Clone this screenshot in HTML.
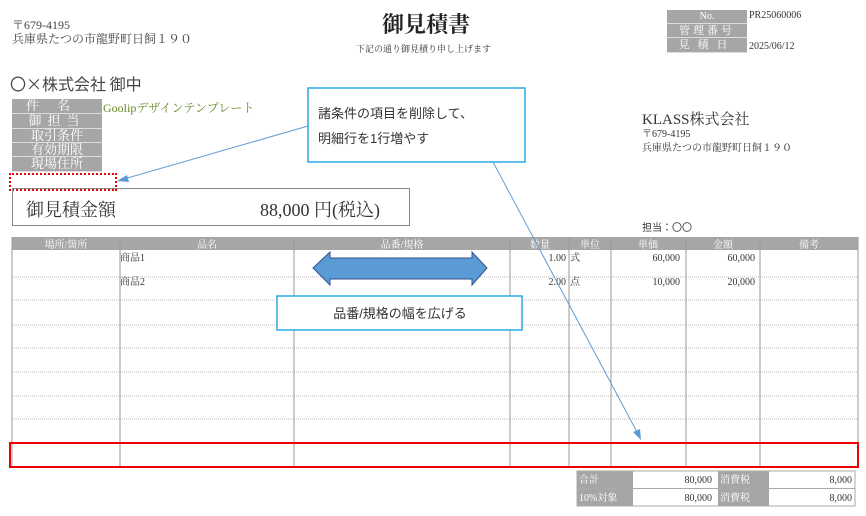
<!DOCTYPE html>
<html><head><meta charset="utf-8"><style>
body{margin:0;width:866px;height:516px;background:#fff;position:relative;overflow:hidden;font-family:"Liberation Serif","Noto Serif CJK SC","Noto Sans CJK JP",serif;color:#333}
.a{position:absolute;white-space:nowrap}
.g{position:absolute;background:#a6a6a6;color:#fff;text-align:center;font-size:13px;line-height:14px;border-bottom:1px solid #ddd}
.s{font-family:"Liberation Sans","Noto Sans CJK JP",sans-serif}
.j{font-family:"Noto Sans CJK JP",sans-serif}
</style></head><body>
<div class="a" style="left:12px;top:18px;font-size:12px;line-height:14px;color:#444">〒679-4195<br>兵庫県たつの市龍野町日飼１９０</div>
<div class="a" style="left:382px;top:8px;font-size:22px;font-weight:bold;color:#222">御見積書</div>
<div class="a" style="left:356px;top:42px;font-size:9px;color:#333">下記の通り御見積り申し上げます</div>
<div class="g" style="left:667px;top:10px;width:80px;height:13px;font-size:10px">No.</div>
<div class="g" style="left:667px;top:24px;width:80px;height:13px;font-size:11px;letter-spacing:3px">管理番号</div>
<div class="g" style="left:667px;top:38px;width:80px;height:14px;font-size:11px;letter-spacing:8px">見積日</div>
<div class="a" style="left:749px;top:10px;font-size:10px">PR25060006</div>
<div class="a" style="left:749px;top:41px;font-size:10px">2025/06/12</div>
<div class="a j" style="left:10px;top:71px;font-size:16px;color:#444">〇×株式会社 御中</div>
<div class="g" style="left:12px;top:99px;width:90px;height:14px;letter-spacing:18px">件名</div>
<div class="g" style="left:12px;top:114px;width:90px;height:14px;letter-spacing:6px">御担当</div>
<div class="g" style="left:12px;top:129px;width:90px;height:13px">取引条件</div>
<div class="g" style="left:12px;top:143px;width:90px;height:13px">有効期限</div>
<div class="g" style="left:12px;top:157px;width:90px;height:14px">現場住所</div>
<div class="a" style="left:103px;top:99px;font-size:12px;color:#6a8a2a">Goolipデザインテンプレート</div>
<div class="a" style="left:9px;top:173px;width:104px;height:14px;border:2px dotted #e00"></div>
<div class="a" style="left:12px;top:188px;width:396px;height:36px;border:1.5px solid #888"></div>
<div class="a" style="left:26px;top:196px;font-size:18px">御見積金額</div>
<div class="a" style="left:260px;top:196px;font-size:18px">88,000 円(税込)</div>
<div class="a" style="left:642px;top:108px;font-size:15px">KLASS株式会社</div>
<div class="a" style="left:642px;top:128px;font-size:10px;line-height:14px">〒679-4195<br>兵庫県たつの市龍野町日飼１９０</div>
<div class="a j" style="left:642px;top:219px;font-size:10px">担当：〇〇</div>
<svg class="a" style="left:0;top:0" width="866" height="516">
<g font-size="10" fill="#fff" text-anchor="middle">
<rect x="12" y="237" width="846" height="13" fill="#a6a6a6"/>
<text x="66" y="248">場所/箇所</text><text x="207" y="248">品名</text><text x="402" y="248">品番/規格</text><text x="540" y="248">数量</text><text x="590" y="248">単位</text><text x="648" y="248">単価</text><text x="723" y="248">金額</text><text x="809" y="248">備考</text>
</g>
<g stroke="#bbb" stroke-width="1" stroke-dasharray="1,1">
<line x1="12" y1="277" x2="858" y2="277"/><line x1="12" y1="300" x2="858" y2="300"/><line x1="12" y1="325" x2="858" y2="325"/><line x1="12" y1="348" x2="858" y2="348"/><line x1="12" y1="372" x2="858" y2="372"/><line x1="12" y1="396" x2="858" y2="396"/><line x1="12" y1="419" x2="858" y2="419"/>
</g>
<g stroke="#999" stroke-width="1">
<line x1="12" y1="237" x2="12" y2="467"/><line x1="120" y1="237" x2="120" y2="467"/><line x1="294" y1="237" x2="294" y2="467"/><line x1="510" y1="237" x2="510" y2="467"/><line x1="569" y1="237" x2="569" y2="467"/><line x1="611" y1="237" x2="611" y2="467"/><line x1="686" y1="237" x2="686" y2="467"/><line x1="760" y1="237" x2="760" y2="467"/><line x1="858" y1="237" x2="858" y2="467"/>
<line x1="12" y1="443" x2="858" y2="443"/>
</g>
<g font-size="10" fill="#333">
<text x="120" y="261">商品1</text><text x="120" y="285">商品2</text>
<text x="566" y="261" text-anchor="end">1.00</text><text x="570" y="261">式</text>
<text x="566" y="285" text-anchor="end">2.00</text><text x="570" y="285">点</text>
<text x="680" y="261" text-anchor="end">60,000</text><text x="755" y="261" text-anchor="end">60,000</text>
<text x="680" y="285" text-anchor="end">10,000</text><text x="755" y="285" text-anchor="end">20,000</text>
</g>
<rect x="10" y="443" width="848" height="24" fill="none" stroke="#e00" stroke-width="2"/>
<polygon points="313,268 330,252 330,258 472,258 472,252 487,268 472,285 472,279 330,279 330,285" fill="#5b9bd5" stroke="#2f528f" stroke-width="1"/>
<rect x="277" y="296" width="245" height="34" fill="#fff" stroke="#29abe2" stroke-width="1.5"/>
<text x="400" y="318" font-size="13" text-anchor="middle" fill="#333" font-family="Liberation Sans,Noto Sans CJK JP,sans-serif">品番/規格の幅を広げる</text>
<rect x="308" y="88" width="217" height="74" fill="#fff" stroke="#29abe2" stroke-width="1.5"/>
<text x="318" y="118" font-size="13" fill="#333" font-family="Liberation Sans,Noto Sans CJK JP,sans-serif">諸条件の項目を削除して、</text>
<text x="318" y="143" font-size="13" fill="#333" font-family="Liberation Sans,Noto Sans CJK JP,sans-serif">明細行を1行増やす</text>
<line x1="308" y1="126" x2="124" y2="179" stroke="#5b9bd5" stroke-width="1"/>
<polygon points="117,181 127,175 129,182" fill="#5b9bd5"/>
<line x1="493" y1="162" x2="637" y2="432" stroke="#5b9bd5" stroke-width="1"/>
<polygon points="641,440 633,432 640,429" fill="#5b9bd5"/>
<g font-size="10">
<rect x="577" y="471" width="56" height="17" fill="#a6a6a6"/><rect x="718" y="471" width="51" height="17" fill="#a6a6a6"/>
<rect x="577" y="489" width="56" height="17" fill="#a6a6a6"/><rect x="718" y="489" width="51" height="17" fill="#a6a6a6"/>
<rect x="577" y="471" width="278" height="35" fill="none" stroke="#aaa"/>
<line x1="577" y1="488.5" x2="855" y2="488.5" stroke="#aaa"/>
<text x="579" y="483" fill="#fff">合計</text><text x="579" y="501" fill="#fff">10%対象</text>
<text x="720" y="483" fill="#fff">消費税</text><text x="720" y="501" fill="#fff">消費税</text>
<text x="712" y="483" text-anchor="end" fill="#333">80,000</text><text x="712" y="501" text-anchor="end" fill="#333">80,000</text>
<text x="852" y="483" text-anchor="end" fill="#333">8,000</text><text x="852" y="501" text-anchor="end" fill="#333">8,000</text>
</g>
</svg>
</body></html>
